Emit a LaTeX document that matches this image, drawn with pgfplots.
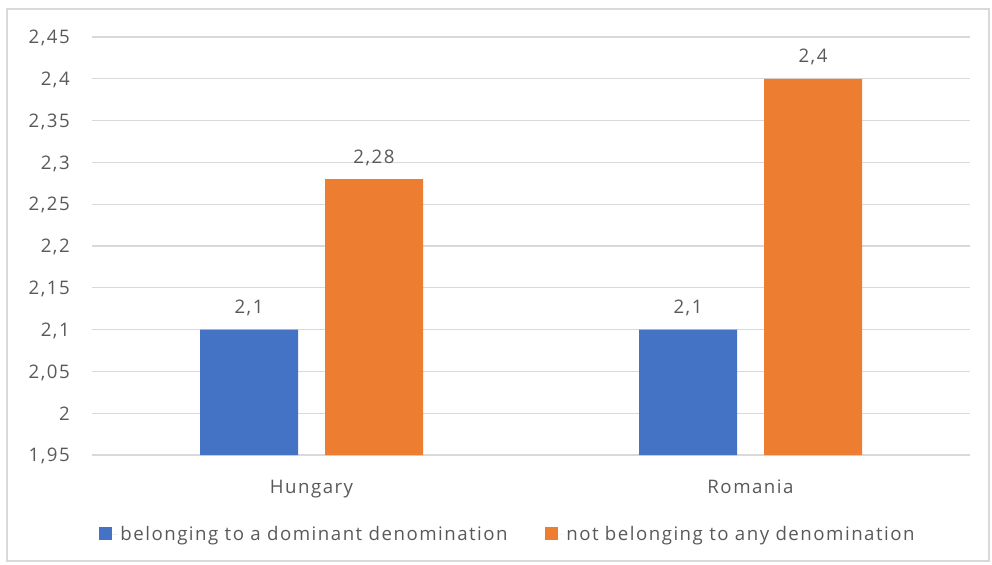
\documentclass[border=0pt]{standalone}
\usepackage{fontspec}
\setmainfont{Open Sans}[LetterSpace=8]
\usepackage{pgfplots}
\pgfplotsset{compat=1.18}
\definecolor{barblue}{HTML}{4472C4}
\definecolor{barorange}{HTML}{ED7D31}
\definecolor{txtgray}{HTML}{595959}
\definecolor{gridgray}{HTML}{D9D9D9}
\newcommand{\chartfont}{\fontsize{14}{17}\selectfont}

\begin{document}
\begin{tikzpicture}[x=1pt,y=1pt]
\path[use as bounding box] (-69,-81.75) rectangle (675,341.25);
\draw[gridgray, line width=0.9pt] (-63.75,-79.5) rectangle (672.75,334.5);
\begin{axis}[
  at={(0,0)}, anchor=south west,
  scale only axis, width=658.5pt, height=313.5pt,
  ybar=20.25pt, bar width=73.5pt,
  xmin=-0.5, xmax=1.5,
  ymin=1.95, ymax=2.45,
  xtick={0,1}, xticklabels={Hungary,Romania},
  ytick={1.95,2,2.05,2.1,2.15,2.2,2.25,2.3,2.35,2.4,2.45},
  /pgf/number format/use comma,
  /pgf/number format/assume math mode=true,
  major tick length=0pt,
  axis line style={draw=none},
  ymajorgrids, grid style={gridgray, line width=0.9pt},
  tick label style={font=\chartfont, text=txtgray},
  yticklabel style={anchor=base east, inner sep=0pt, xshift=-16.5pt, yshift=-5.1pt},
  xticklabel style={anchor=base, inner sep=0pt, yshift=-28.5pt},
  nodes near coords,
  every node near coord/.append style={font=\chartfont, text=txtgray, anchor=base, inner sep=0pt, yshift=12pt},
  legend columns=2,
  legend style={at={(0.474,-0.189)}, anchor=center, draw=none, fill=none,
    font=\chartfont, text=txtgray,
    /tikz/every even column/.append style={column sep=26pt}},
  legend image code/.code={%
    \path (0pt,0pt) rectangle (14pt,0pt);
    \fill[#1] (0pt,-4.6pt) rectangle (9.75pt,5.15pt);},
]
\addplot[fill=barblue, draw=none] coordinates {(0,2.1) (1,2.1)};
\addplot[fill=barorange, draw=none] coordinates {(0,2.28) (1,2.4)};
\legend{belonging to a dominant denomination, not belonging to any denomination}
\end{axis}
\end{tikzpicture}
\end{document}
